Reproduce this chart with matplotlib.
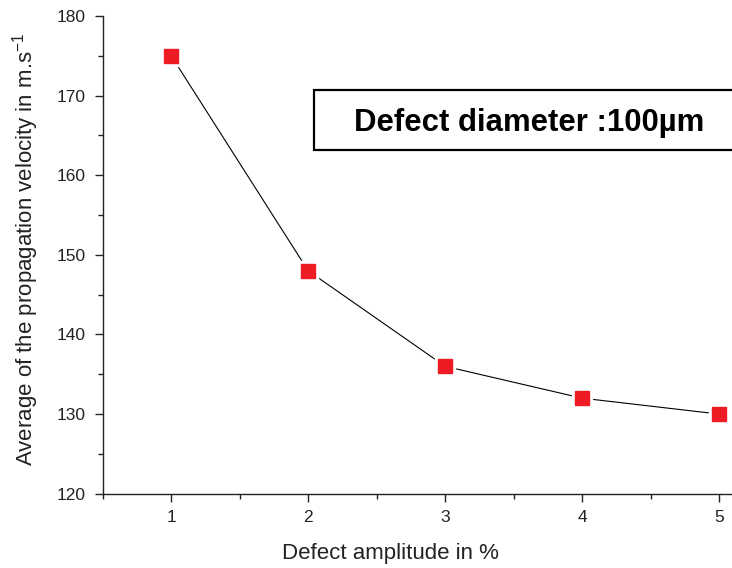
import matplotlib
matplotlib.use("Agg")
import matplotlib.pyplot as plt
from matplotlib.patches import Rectangle
from matplotlib.ticker import MultipleLocator

plt.rcParams['font.family'] = ['Liberation Sans', 'DejaVu Sans']

amplitude = [1, 2, 3, 4, 5]
velocity = [175, 148, 136, 132, 130]
x_label = "Defect amplitude in %"
y_label = r"Average of the propagation velocity in m.s$^{\mathregular{-1}}$"
box_text = "Defect diameter :100µm"

W, H = 732, 568
fig = plt.figure(figsize=(W / 100, H / 100), dpi=100)
ax = fig.add_axes([102.7 / W, (H - 493.7) / H, (787.6 - 102.7) / W, 477.7 / H])

ax.plot(amplitude, velocity, color='black', linewidth=0.8, marker='s',
        markersize=15, markerfacecolor='white', markeredgecolor='white', zorder=2)
ax.plot(amplitude, velocity, linestyle='none', marker='s', markersize=10.5,
        markerfacecolor='#ED1C24', markeredgecolor='#ED1C24', zorder=3)

ax.set_xlim(0.5, 5.5)
ax.set_ylim(120, 180)
ax.xaxis.set_major_locator(MultipleLocator(1))
ax.xaxis.set_minor_locator(MultipleLocator(0.5))
ax.yaxis.set_major_locator(MultipleLocator(10))
ax.yaxis.set_minor_locator(MultipleLocator(5))
for s in ['top', 'right']:
    ax.spines[s].set_visible(False)
for s in ['left', 'bottom']:
    ax.spines[s].set_linewidth(1.0)
    ax.spines[s].set_color('#222222')
ax.tick_params(which='major', direction='out', length=6, width=1.0,
               labelsize=12.5, colors='#222222', pad=6)
ax.tick_params(which='minor', direction='out', length=3.5, width=1.0, colors='#222222')

fig.text(390 / W, (H - 553) / H, x_label, ha='center', va='center', fontsize=16, color='#222222')
fig.text(26 / W, (H - 249) / H, y_label, ha='center', va='center', rotation=90,
         fontsize=16, color='#222222')

fig.patches.append(Rectangle((314 / W, (H - 150) / H), (800 - 314) / W, 60 / H,
                             transform=fig.transFigure, facecolor='white',
                             edgecolor='black', linewidth=1.6, figure=fig))
fig.text(354 / W, (H - 131) / H, box_text, ha='left', va='baseline',
         fontsize=22.4, fontweight='bold', color='black')

fig.savefig('out.png', dpi=100)
